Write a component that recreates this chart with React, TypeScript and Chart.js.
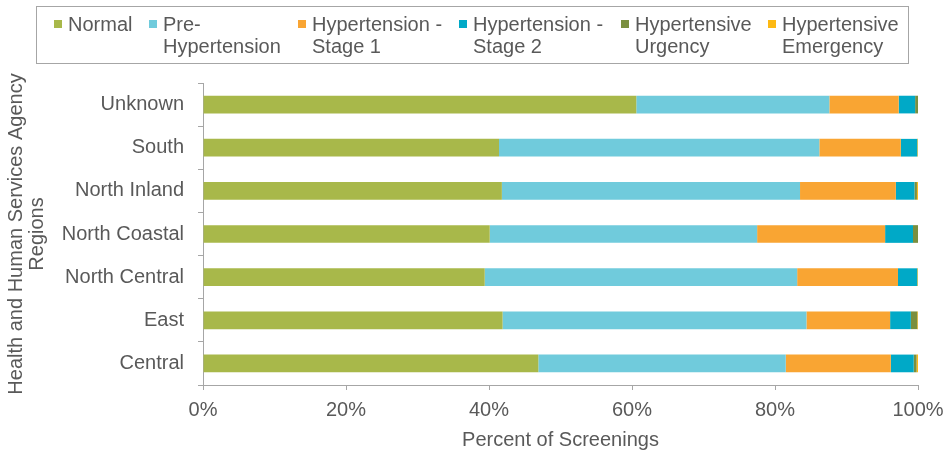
import React, { useEffect, useRef } from "react";
import { Chart, registerables } from "chart.js";

Chart.register(...registerables);

const categories = ["Unknown", "South", "North Inland", "North Coastal", "North Central", "East", "Central"];
const seriesNames = [
  ["Normal"],
  ["Pre-", "Hypertension"],
  ["Hypertension -", "Stage 1"],
  ["Hypertension -", "Stage 2"],
  ["Hypertensive", "Urgency"],
  ["Hypertensive", "Emergency"],
];
const normal = [60.6, 41.4, 41.8, 40.1, 39.4, 41.9, 46.9];
const preHypertension = [27.0, 44.8, 41.7, 37.4, 43.7, 42.5, 34.6];
const stage1 = [9.7, 11.4, 13.4, 17.9, 14.1, 11.7, 14.7];
const stage2 = [2.3, 2.3, 2.6, 3.9, 2.7, 2.9, 3.2];
const urgency = [0.4, 0.0, 0.35, 0.7, 0.0, 0.9, 0.4];
const emergency = [0.0, 0.1, 0.15, 0.0, 0.1, 0.1, 0.2];
const xTicks = [0, 20, 40, 60, 80, 100];

const colors = ["#a8b84a", "#70cbdc", "#f9a533", "#00a9c7", "#7a8f3f", "#fdb913"];
const FONT = '"Liberation Sans", Arial, sans-serif';
const TEXT = "#595959";
const LINE = "#a6a6a6";

const legendTextX = [68, 163, 312, 473, 635, 782];

const legendPlugin = {
  id: "boxLegend",
  afterDraw(chart: any) {
    const ctx = chart.ctx;
    ctx.save();
    ctx.strokeStyle = LINE;
    ctx.lineWidth = 1;
    ctx.strokeRect(36.5, 6.5, 872, 57);
    ctx.font = `20px ${FONT}`;
    ctx.textBaseline = "alphabetic";
    ctx.textAlign = "left";
    seriesNames.forEach((lines, i) => {
      const tx = legendTextX[i];
      ctx.fillStyle = colors[i];
      ctx.fillRect(tx - 14, 20, 8, 8);
      ctx.fillStyle = TEXT;
      lines.forEach((ln, j) => {
        ctx.fillText(ln, tx, 31 + j * 22);
      });
    });
    ctx.restore();
  },
};

export default function App() {
  const ref = useRef<HTMLCanvasElement>(null);
  useEffect(() => {
    document.body.style.margin = "0";
    const values = [normal, preHypertension, stage1, stage2, urgency, emergency];
    const chart = new Chart(ref.current as HTMLCanvasElement, {
      type: "bar",
      data: {
        labels: categories,
        datasets: values.map((d, i) => ({
          label: seriesNames[i].join(" "),
          data: d,
          backgroundColor: colors[i],
          borderWidth: 0,
          categoryPercentage: 1,
          barPercentage: 0.41,
        })),
      },
      options: {
        indexAxis: "y",
        responsive: false,
        animation: false,
        layout: { padding: { top: 83, right: 27, left: 0, bottom: 0 } },
        plugins: { legend: { display: false }, tooltip: { enabled: false } },
        scales: {
          x: {
            stacked: true,
            min: 0,
            max: 100,
            afterBuildTicks: (s: any) => {
              s.ticks = xTicks.map((v) => ({ value: v }));
            },
            afterFit: (s: any) => {
              s.height = 71;
              s.paddingLeft = 0;
              s.paddingRight = 0;
            },
            ticks: {
              color: TEXT,
              font: { family: FONT, size: 20 },
              padding: 8,
              maxRotation: 0,
              callback: (v: any) => v + "%",
            },
            grid: { drawOnChartArea: false, tickLength: 5, color: LINE },
            border: { color: LINE },
            title: {
              display: true,
              text: "Percent of Screenings",
              color: TEXT,
              font: { family: FONT, size: 20 },
              padding: { top: 0, bottom: 4 },
            },
          },
          y: {
            stacked: true,
            afterFit: (s: any) => {
              s.width = 203;
              s.paddingTop = 0;
              s.paddingBottom = 0;
            },
            ticks: { color: TEXT, font: { family: FONT, size: 20 }, padding: 14 },
            grid: { drawOnChartArea: false, tickLength: 5, color: LINE, offset: true },
            border: { color: LINE },
            title: {
              display: true,
              text: ["Health and Human Services Agency", "Regions"],
              color: TEXT,
              font: { family: FONT, size: 20, lineHeight: "21px" },
              padding: { top: 6, bottom: 0 },
            },
          },
        },
      },
      plugins: [legendPlugin],
    } as any);
    return () => chart.destroy();
  }, []);
  return <canvas ref={ref} width={945} height={456} style={{ display: "block" }} />;
}
